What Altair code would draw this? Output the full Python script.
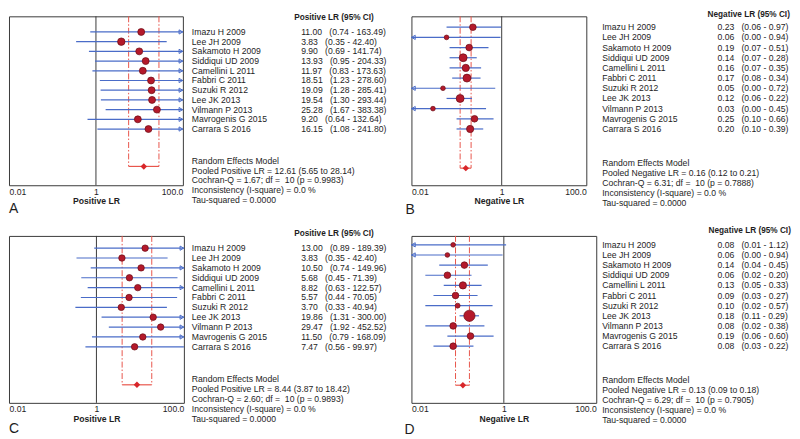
import altair as alt
import pandas as pd
import numpy as np

# ---------------- data ----------------
studies = ["Imazu H 2009", "Lee JH 2009", "Sakamoto H 2009", "Siddiqui UD 2009",
           "Camellini L 2011", "Fabbri C 2011", "Suzuki R 2012", "Lee JK 2013",
           "Vilmann P 2013", "Mavrogenis G 2015", "Carrara S 2016"]

# Panel A - positive LR
a_est = [11.00, 3.83, 9.90, 13.93, 11.97, 18.51, 19.09, 19.54, 25.28, 9.20, 16.15]
a_lo = [0.74, 0.35, 0.69, 0.95, 0.83, 1.23, 1.28, 1.30, 1.67, 0.64, 1.08]
a_hi = [163.49, 42.40, 141.74, 204.33, 173.63, 278.60, 285.41, 293.44, 383.38, 132.64, 241.80]
a_wt = [7.0, 7.5, 7.0, 7.0, 7.0, 7.0, 7.0, 7.0, 7.0, 7.0, 7.0]
a_pooled = [12.61, 5.65, 28.14]
a_stats = [1.67, 10, 0.9983, 0.0, 0.0000]

# Panel B - negative LR
b_est = [0.23, 0.06, 0.19, 0.14, 0.16, 0.17, 0.05, 0.12, 0.03, 0.25, 0.20]
b_lo = [0.06, 0.00, 0.07, 0.07, 0.07, 0.08, 0.00, 0.06, 0.00, 0.10, 0.10]
b_hi = [0.97, 0.94, 0.51, 0.28, 0.35, 0.34, 0.72, 0.22, 0.45, 0.66, 0.39]
b_wt = [6.7, 4.7, 6.7, 8.0, 7.3, 8.0, 4.7, 8.0, 4.7, 6.7, 7.3]
b_pooled = [0.16, 0.12, 0.21]
b_stats = [6.31, 10, 0.7888, 0.0, 0.0000]

# Panel C - positive LR
c_est = [13.00, 3.83, 10.50, 5.68, 8.82, 5.57, 3.70, 19.86, 29.47, 11.50, 7.47]
c_lo = [0.89, 0.35, 0.74, 0.45, 0.63, 0.44, 0.33, 1.31, 1.92, 0.79, 0.56]
c_hi = [189.39, 42.40, 149.96, 71.39, 122.57, 70.05, 40.94, 300.00, 452.52, 168.09, 99.97]
c_wt = [6.5, 6.5, 6.5, 6.5, 6.5, 6.5, 6.5, 6.5, 6.5, 6.5, 6.5]
c_pooled = [8.44, 3.87, 18.42]
c_stats = [2.60, 10, 0.9893, 0.0, 0.0000]

# Panel D - negative LR
d_est = [0.08, 0.06, 0.14, 0.06, 0.13, 0.09, 0.10, 0.18, 0.08, 0.19, 0.08]
d_lo = [0.01, 0.00, 0.04, 0.02, 0.05, 0.03, 0.02, 0.11, 0.02, 0.06, 0.03]
d_hi = [1.12, 0.94, 0.45, 0.20, 0.33, 0.27, 0.57, 0.29, 0.38, 0.60, 0.22]
d_wt = [4.7, 4.7, 6.7, 6.7, 7.3, 6.7, 5.0, 11.3, 6.7, 6.7, 6.7]
d_pooled = [0.13, 0.09, 0.18]
d_stats = [6.29, 10, 0.7905, 0.0, 0.0000]

tick_values = [0.01, 1, 100]
tick_labels = ["0.01", "1", "100.0"]

# ---------------- style ----------------
FONT = "Liberation Sans"
TXT = "#1e1e1e"
BLUE = "#4a6cc8"
RED_LINE = "#e8564c"
DOT_FILL = "#b4192b"
DOT_STROKE = "#6a0c14"
FS = 8.7
NB = "\u00a0"


def panel(est, lo, hi, wt, pooled, stats, kind, letter, g):
    xmax = g["xmax"]
    xs = alt.Scale(type="log", domain=[0.01, xmax], clamp=True, nice=False)
    ys = alt.Scale(domain=[g["ytop"], g["ybot"]], reverse=True, nice=False, zero=False)
    vals = list(tick_values[:-1]) + [xmax]
    expr = ("datum.value <= 0.011 ? '%s' : datum.value < 2 ? '%s' : '%s'"
            % tuple(tick_labels))
    ax = alt.Axis(values=vals, labelExpr=expr, labelFlush=True, ticks=False,
                  domain=False, grid=False, title=f"{kind} LR",
                  titleFontWeight="bold", titleFontSize=FS, labelFontSize=FS,
                  titleFont=FONT, labelFont=FONT, labelColor=TXT, titleColor=TXT,
                  labelPadding=2, titlePadding=1)

    def X(f):
        return alt.X(f"{f}:Q", scale=xs, axis=ax)

    def Y(f):
        return alt.Y(f"{f}:Q", scale=ys, axis=None)

    df = pd.DataFrame({"study": studies, "row": np.arange(len(studies)),
                       "est": est, "lo": lo, "hi": hi, "wt": wt})
    df["lo_p"] = df["lo"].clip(lower=0.01, upper=xmax)
    df["hi_p"] = df["hi"].clip(lower=0.01, upper=xmax)
    df["size"] = df["wt"] ** 2
    df["vtxt"] = [f"{e:.2f}{NB*3}({l:.2f} - {h:.2f})" for e, l, h in zip(est, lo, hi)]
    df["edge_r"] = xmax
    df["edge_l"] = 0.01

    prow = 13.85
    pdf = pd.DataFrame({"est": [pooled[0]], "lo": [pooled[1]], "hi": [pooled[2]], "row": [prow]})
    ddf = pd.DataFrame({"x": [pooled[1], pooled[2]], "y0": [g["ytop"]] * 2, "y1": [prow] * 2})
    one = pd.DataFrame({"v": [1.0]})

    q, dfree, p, i2, tau = stats
    lines = ["Random Effects Model",
             f"Pooled {kind} LR = {pooled[0]:.2f} ({pooled[1]:.2f} to {pooled[2]:.2f})",
             f"Cochran-Q = {q:.2f}; df ={NB*2}{dfree} (p = {p:.4f})",
             f"Inconsistency (I-square) = {i2:.1f} %",
             f"Tau-squared = {tau:.4f}"]
    sdf = pd.DataFrame({"t": lines, "row": [13.3 + k for k in range(len(lines))]})
    hdf = pd.DataFrame({"t": [f"{kind} LR (95% CI)"], "row": [g["hrow"]]})
    ldf = pd.DataFrame({"t": [letter], "row": [g["lrow"]]})

    base = alt.Chart(df)
    layers = [
        alt.Chart(one).mark_rule(color="#3a3a3a", strokeWidth=1).encode(x=X("v")),
        alt.Chart(ddf).mark_rule(color=RED_LINE, strokeWidth=1,
                                 strokeDash=[6, 2, 1.5, 2]).encode(
            x=X("x"), y=Y("y0"), y2="y1:Q"),
        alt.Chart(pdf).mark_rule(color=RED_LINE, strokeWidth=1.2).encode(
            x=X("lo"), x2="hi:Q", y=Y("row")),
        alt.Chart(pdf).mark_point(shape="diamond", filled=True, color="#d8262a",
                                  size=42, opacity=1).encode(x=X("est"), y=Y("row")),
        base.mark_rule(color=BLUE, strokeWidth=1.2).encode(
            x=X("lo_p"), x2="hi_p:Q", y=Y("row")),
    ]
    if g["arrows"] == "right":
        layers.append(base.transform_filter(f"datum.hi > {xmax}").mark_point(
            shape="triangle-right", filled=False, color=BLUE, size=18,
            strokeWidth=1, xOffset=-2, opacity=1).encode(x=X("edge_r"), y=Y("row")))
    else:
        layers.append(base.transform_filter("datum.lo <= 0.0101").mark_point(
            shape="triangle-left", filled=False, color=BLUE, size=18,
            strokeWidth=1, xOffset=2, opacity=1).encode(x=X("edge_l"), y=Y("row")))
    layers += [
        base.mark_circle(color=DOT_FILL, stroke=DOT_STROKE, strokeWidth=0.7,
                         opacity=1).encode(
            x=X("est"), y=Y("row"), size=alt.Size("size:Q", scale=None, legend=None)),
        base.mark_text(align="left", baseline="middle", font=FONT, fontSize=FS,
                       color=TXT).encode(x=alt.value(g["name_x"]), y=Y("row"), text="study:N"),
        base.mark_text(align="left", baseline="middle", font=FONT, fontSize=FS,
                       color=TXT).encode(x=alt.value(g["val_x"]), y=Y("row"), text="vtxt:N"),
        alt.Chart(hdf).mark_text(align="left", baseline="middle", font=FONT, fontSize=8.3,
                                 fontWeight="bold", color=TXT).encode(
            x=alt.value(g["head_x"]), y=Y("row"), text="t:N"),
        alt.Chart(sdf).mark_text(align="left", baseline="middle", font=FONT, fontSize=FS,
                                 color=TXT).encode(
            x=alt.value(g["name_x"]), y=Y("row"), text="t:N"),
        alt.Chart(ldf).mark_text(align="left", baseline="middle", font=FONT, fontSize=14,
                                 color=TXT).encode(
            x=alt.value(g["letter_x"]), y=Y("row"), text="t:N"),
    ]
    return alt.layer(*layers).properties(width=g["width"], height=g["height"])


gA = dict(width=175, height=170, ytop=-1.61, ybot=15.79, xmax=100, name_x=184, val_x=294,
          head_x=287, letter_x=0, lrow=18.2, hrow=-1.4, arrows="right")
gB = dict(width=176, height=170, ytop=-1.07, ybot=15.53, xmax=75, name_x=192, val_x=308,
          head_x=298, letter_x=-6, lrow=18.0, hrow=-1.2, arrows="left")
gC = dict(width=176, height=168, ytop=-1.24, ybot=15.68, xmax=100, name_x=184, val_x=294,
          head_x=287, letter_x=0, lrow=18.3, hrow=-1.4, arrows="right")
gD = dict(width=186, height=168, ytop=-0.88, ybot=15.59, xmax=100, name_x=192, val_x=308,
          head_x=299, letter_x=-7, lrow=18.3, hrow=-1.4, arrows="left")

pA = panel(a_est, a_lo, a_hi, a_wt, a_pooled, a_stats, "Positive", "A", gA)
pB = panel(b_est, b_lo, b_hi, b_wt, b_pooled, b_stats, "Negative", "B", gB)
pC = panel(c_est, c_lo, c_hi, c_wt, c_pooled, c_stats, "Positive", "C", gC)
pD = panel(d_est, d_lo, d_hi, d_wt, d_pooled, d_stats, "Negative", "D", gD)

chart = alt.concat(
    pA, pB, pC, pD, columns=2,
    spacing={"row": 51, "column": 229}, bounds="flush", align="none",
    padding=0, background="white",
).configure_view(stroke="#3a3a3a", strokeWidth=1)

chart.save("out.html", embed_options={"renderer": "svg", "actions": False})
